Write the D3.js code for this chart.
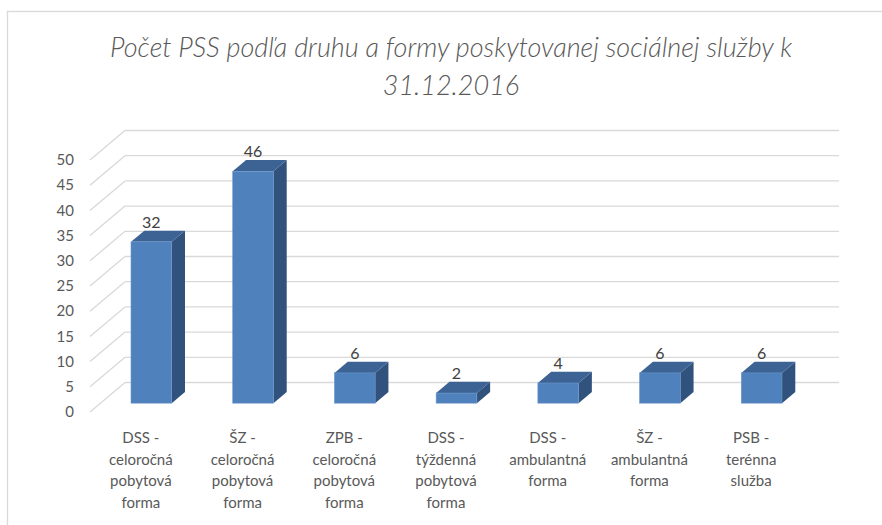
<!DOCTYPE html>
<html>
<head>
<meta charset="utf-8">
<script src="https://cdn.jsdelivr.net/npm/d3@7"></script>
<style>
  body { margin: 0; background: #fff; }
  svg { display: block; font-family: Lato, "Open Sans", sans-serif; }
</style>
</head>
<body>
<svg id="chart" width="882" height="525"></svg>
<script>
// chart data
var categories = [
    ["DSS -", "celoročná", "pobytová", "forma"],
    ["ŠZ -", "celoročná", "pobytová", "forma"],
    ["ZPB -", "celoročná", "pobytová", "forma"],
    ["DSS -", "týždenná", "pobytová", "forma"],
    ["DSS -", "ambulantná", "forma"],
    ["ŠZ -", "ambulantná", "forma"],
    ["PSB -", "terénna", "služba"]
];
var values = [32, 46, 6, 2, 4, 6, 6];
var yTicks = [0, 5, 10, 15, 20, 25, 30, 35, 40, 45, 50];
var titleLines = ["Počet PSS podľa druhu a formy poskytovanej sociálnej služby k", "31.12.2016"];

var svg = d3.select("#chart");
var textColor = "#595959";

// depth of the 3d box (front plane -> back wall)
var depthX = 35, depthY = -29.5;
var barFront = 0.3, barBack = 0.68;

var x = d3.scaleBand()
    .domain(d3.range(categories.length))
    .range([90, 802])
    .paddingInner(0.6)
    .paddingOuter(0.3);

var y = d3.scaleLinear()
    .domain([0, 50])
    .range([412, 160]);

// outer frame
svg.append("rect")
    .attr("x", 7.5).attr("y", 11.5)
    .attr("width", 900).attr("height", 540)
    .attr("fill", "none")
    .attr("stroke", "#d9d9d9")
    .attr("stroke-width", 1.3);

// title
svg.append("g").selectAll("text")
    .data(titleLines)
    .join("text")
    .attr("x", 451)
    .attr("y", function (d, i) { return 57 + i * 38; })
    .attr("text-anchor", "middle")
    .attr("font-size", 27)
    .attr("font-style", "italic")
    .attr("font-weight", 300)
    .attr("fill", textColor)
    .text(function (d) { return d; });

// gridlines: side wall diagonals + back wall lines
var grid = svg.append("g");
var xLeft = x.range()[0], xRight = x.range()[1];
yTicks.forEach(function (t) {
    grid.append("line")
        .attr("x1", xLeft).attr("y1", y(t))
        .attr("x2", xLeft + depthX).attr("y2", y(t) + depthY)
        .attr("stroke", "#d9d9d9").attr("stroke-width", 1.3);
    grid.append("line")
        .attr("x1", xLeft + depthX).attr("y1", y(t) + depthY)
        .attr("x2", xRight + depthX + 2).attr("y2", y(t) + depthY)
        .attr("stroke", "#d9d9d9").attr("stroke-width", 1.3);
});

// y axis labels
svg.append("g").selectAll("text")
    .data(yTicks)
    .join("text")
    .attr("x", 74)
    .attr("y", function (d) { return y(d); })
    .attr("dy", "0.35em")
    .attr("text-anchor", "end")
    .attr("font-size", 15)
    .attr("fill", textColor)
    .text(function (d) { return d; });

// bars
var fx = barFront * depthX, fy = barFront * depthY;
var bx = barBack * depthX, by = barBack * depthY;
var bars = svg.append("g").selectAll("g")
    .data(values)
    .join("g");

bars.each(function (v, i) {
    var g = d3.select(this);
    var x0 = x(i) + fx, x1 = x(i) + x.bandwidth() + fx;
    var yb = y(0) + fy, yt = y(v) + fy;
    var dx = bx - fx, dy = by - fy;
    // side face
    g.append("path")
        .attr("d", "M" + x1 + "," + yt + "L" + (x1 + dx) + "," + (yt + dy) +
            "L" + (x1 + dx) + "," + (yb + dy) + "L" + x1 + "," + yb + "Z")
        .attr("fill", "#30527d");
    // top face
    g.append("path")
        .attr("d", "M" + x0 + "," + yt + "L" + (x0 + dx) + "," + (yt + dy) +
            "L" + (x1 + dx) + "," + (yt + dy) + "L" + x1 + "," + yt + "Z")
        .attr("fill", "#3c6394");
    // front face
    g.append("rect")
        .attr("x", x0).attr("y", yt)
        .attr("width", x1 - x0).attr("height", yb - yt)
        .attr("fill", "#4f81bd")
        .attr("stroke", "#6a96cc").attr("stroke-width", 0.6);
    // value label
    g.append("text")
        .attr("x", (x0 + x1) / 2)
        .attr("y", yt + dy - 3)
        .attr("text-anchor", "middle")
        .attr("font-size", 16)
        .attr("fill", "#404040")
        .text(v);
});

// category labels
svg.append("g").selectAll("text")
    .data(categories)
    .join("text")
    .attr("x", function (d, i) { return xLeft + x.step() * (i + 0.5); })
    .attr("y", 443)
    .attr("text-anchor", "middle")
    .attr("font-size", 15)
    .attr("fill", textColor)
    .each(function (d) {
        var t = d3.select(this);
        d.forEach(function (line, k) {
            t.append("tspan")
                .attr("x", t.attr("x"))
                .attr("dy", k == 0 ? 0 : 21.7)
                .text(line);
        });
    });
</script>
</body>
</html>
